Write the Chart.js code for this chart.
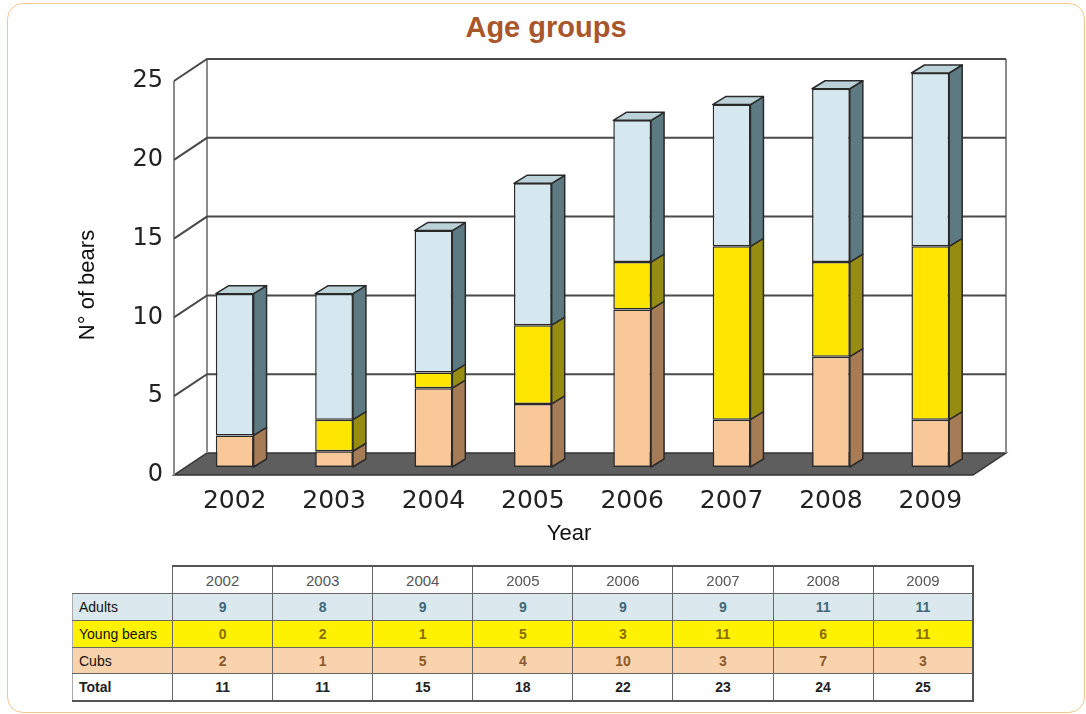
<!DOCTYPE html>
<html>
<head>
<meta charset="utf-8">
<title>Age groups</title>
<script src="https://cdn.jsdelivr.net/npm/chart.js@4"></script>
<style>
    body { margin: 0; background: #fff; width: 1086px; height: 714px; overflow: hidden; position: relative; font-family: "Liberation Sans", Arial, sans-serif; }
    #card { position: absolute; left: 7px; top: 3px; width: 1078px; height: 710px; box-sizing: border-box; border: 1.5px solid #f2c88c; border-radius: 16px; }
    #title { position: absolute; left: 0; width: 1092px; top: 11px; text-align: center; font-weight: bold; font-size: 29px; color: #a9562c; }
    #chart { position: absolute; left: 0; top: 0; }
    .axis-title { position: absolute; font-size: 22px; color: #111; white-space: nowrap; }
    #x-title { left: 469px; width: 200px; top: 520px; text-align: center; }
    #y-title { left: -13px; width: 200px; top: 272px; text-align: center; transform: rotate(-90deg); }
    #data-table { position: absolute; left: 72px; top: 565px; border-collapse: collapse; table-layout: fixed; }
    #data-table td { padding: 0; text-align: center; font-size: 14px; border: 1px solid #666; white-space: nowrap; overflow: hidden; }
    #data-table td.lbl { text-align: left; padding-left: 6px; color: #111; border-left: 1px solid #aaa; }
    #data-table tr.head td { font-family: "Liberation Sans Narrow", "Arial Narrow", sans-serif; color: #555; font-size: 15px; height: 26px; border-top: 2px solid #555; }
    #data-table tr.head td.blank { border: none; border-bottom: 1px solid #666; background: #fff; }
    #data-table td.last { border-right: 2px solid #555; }
    #data-table tr.total td { border-bottom: 2px solid #555; font-weight: bold; color: #222; height: 26px; }
    .num { font-family: "Liberation Sans Narrow", "Arial Narrow", sans-serif; font-weight: bold; }
</style>
</head>
<body>
<div id="card"></div>
<div id="title">Age groups</div>
<canvas id="chart" width="1086" height="560"></canvas>
<div id="x-title" class="axis-title">Year</div>
<div id="y-title" class="axis-title">N° of bears</div>
<table id="data-table"></table>

<script>
        // Data
        const years = ['2002', '2003', '2004', '2005', '2006', '2007', '2008', '2009'];
        const adults = [9, 8, 9, 9, 9, 9, 11, 11];
        const youngBears = [0, 2, 1, 5, 3, 11, 6, 11];
        const cubs = [2, 1, 5, 4, 10, 3, 7, 3];
        const totals = [11, 11, 15, 18, 22, 23, 24, 25];
        const yTicks = [0, 5, 10, 15, 20, 25];

        // Colours: front face, side face, top face
        const colors = {
            adults: { front: '#d5e8ef', side: '#5d7a83', top: '#bcd2d9', text: '#3f6878', row: '#dbe9ee' },
            young: { front: '#ffe600', side: '#968c12', top: '#e9d600', text: '#8a6d00', row: '#fff200' },
            cubs: { front: '#f9c899', side: '#a67c57', top: '#efb98a', text: '#8b5a2b', row: '#f9d2ae' }
        };

        // 3D box look (walls, floor, bar sides)
        const depth3d = {
            id: 'depth3d',
            beforeDatasetsDraw(chart) {
                const { ctx, chartArea: a, scales: { y } } = chart;
                const fL = a.left - 11, fR = a.right - 7, fOff = 8;
                const bL = a.left + 22, bR = a.right + 26, bOff = -14;
                const y0 = y.getPixelForValue(0);
                const yMax = y.getPixelForValue(yTicks[yTicks.length - 1]);

                ctx.save();
                // floor
                ctx.beginPath();
                ctx.moveTo(fL, y0 + fOff);
                ctx.lineTo(fR, y0 + fOff);
                ctx.lineTo(bR, y0 + bOff);
                ctx.lineTo(bL, y0 + bOff);
                ctx.closePath();
                ctx.fillStyle = '#5e5e5e';
                ctx.fill();
                ctx.strokeStyle = '#333';
                ctx.lineWidth = 1.5;
                ctx.stroke();

                // wall edges
                ctx.strokeStyle = '#8c8c8c';
                ctx.lineWidth = 2;
                ctx.beginPath();
                ctx.moveTo(fL, y0 + fOff); ctx.lineTo(fL, yMax + fOff);
                ctx.moveTo(bL, y0 + bOff); ctx.lineTo(bL, yMax + bOff);
                ctx.moveTo(bR, y0 + bOff); ctx.lineTo(bR, yMax + bOff);
                ctx.stroke();

                // grid lines on left and back walls
                ctx.strokeStyle = '#4a4a4a';
                ctx.lineWidth = 2;
                yTicks.forEach(v => {
                    if (v === 0) return;
                    const p = y.getPixelForValue(v);
                    ctx.beginPath();
                    ctx.moveTo(fL, p + fOff);
                    ctx.lineTo(bL, p + bOff);
                    ctx.lineTo(bR, p + bOff);
                    ctx.stroke();
                });
                ctx.restore();
            },
            afterDatasetsDraw(chart) {
                const { ctx } = chart;
                const dx = 13, dy = 8;
                const faces = [colors.cubs, colors.young, colors.adults];
                const n = chart.data.labels.length;

                ctx.save();
                ctx.strokeStyle = '#2a2a2a';
                ctx.lineWidth = 1.5;
                ctx.lineJoin = 'round';
                for (let i = 0; i < n; i++) {
                    let topIdx = -1;
                    chart.data.datasets.forEach((ds, di) => {
                        if (ds.data[i] > 0) topIdx = di;
                    });
                    chart.data.datasets.forEach((ds, di) => {
                        const bar = chart.getDatasetMeta(di).data[i];
                        const { x, y, base, width } = bar.getProps(['x', 'y', 'base', 'width'], true);
                        if (Math.abs(base - y) < 0.5) return;
                        const l = x - width / 2, r = x + width / 2;

                        // side face
                        ctx.beginPath();
                        ctx.moveTo(r, y);
                        ctx.lineTo(r + dx, y - dy);
                        ctx.lineTo(r + dx, base - dy);
                        ctx.lineTo(r, base);
                        ctx.closePath();
                        ctx.fillStyle = faces[di].side;
                        ctx.fill();
                        ctx.stroke();

                        // top face
                        if (di === topIdx) {
                            ctx.beginPath();
                            ctx.moveTo(l, y);
                            ctx.lineTo(l + dx, y - dy);
                            ctx.lineTo(r + dx, y - dy);
                            ctx.lineTo(r, y);
                            ctx.closePath();
                            ctx.fillStyle = faces[di].top;
                            ctx.fill();
                            ctx.stroke();
                        }
                    });
                }
                ctx.restore();
            }
        };

        const ctx = document.getElementById('chart').getContext('2d');
        new Chart(ctx, {
            type: 'bar',
            data: {
                labels: years,
                datasets: [
                    { label: 'Cubs', data: cubs, backgroundColor: colors.cubs.front },
                    { label: 'Young bears', data: youngBears, backgroundColor: colors.young.front },
                    { label: 'Adults', data: adults, backgroundColor: colors.adults.front }
                ]
            },
            options: {
                responsive: false,
                animation: false,
                layout: { padding: { left: 0, right: 106, top: 73, bottom: 33 } },
                datasets: {
                    bar: {
                        borderColor: '#2a2a2a',
                        borderWidth: 1.5,
                        borderSkipped: false,
                        categoryPercentage: 1,
                        barPercentage: 0.38
                    }
                },
                plugins: {
                    legend: { display: false },
                    tooltip: { enabled: false }
                },
                scales: {
                    x: {
                        stacked: true,
                        grid: { display: false, drawTicks: false },
                        border: { display: false },
                        ticks: {
                            padding: 19,
                            color: '#222',
                            font: { family: 'DejaVu Sans', size: 25 }
                        },
                        afterFit: s => { s.height = 60; }
                    },
                    y: {
                        stacked: true,
                        min: 0,
                        max: 25,
                        grid: { display: false, drawTicks: false },
                        border: { display: false },
                        afterBuildTicks: s => { s.ticks = yTicks.map(v => ({ value: v })); },
                        ticks: {
                            padding: 22,
                            labelOffset: 8,
                            color: '#222',
                            font: { family: 'DejaVu Sans', size: 24 }
                        },
                        afterFit: s => { s.width = 185; }
                    }
                }
            },
            plugins: [depth3d]
        });

        // Data table under the chart
        function buildTable() {
            const table = document.getElementById('data-table');
            const colW = [100].concat(years.map(() => 100.1));
            const colgroup = document.createElement('colgroup');
            colW.forEach(w => {
                const c = document.createElement('col');
                c.style.width = w + 'px';
                colgroup.appendChild(c);
            });
            table.appendChild(colgroup);

            const head = document.createElement('tr');
            head.className = 'head';
            head.innerHTML = '<td class="blank"></td>' +
                years.map((yr, i) => `<td class="${i === years.length - 1 ? 'last' : ''}">${yr}</td>`).join('');
            table.appendChild(head);

            const rows = [
                { name: 'Adults', values: adults, c: colors.adults, h: 26 },
                { name: 'Young bears', values: youngBears, c: colors.young, h: 26 },
                { name: 'Cubs', values: cubs, c: colors.cubs, h: 25 }
            ];
            rows.forEach(r => {
                const tr = document.createElement('tr');
                tr.style.background = r.c.row;
                tr.innerHTML = `<td class="lbl" style="height:${r.h}px">${r.name}</td>` +
                    r.values.map((v, i) => `<td class="num ${i === years.length - 1 ? 'last' : ''}" style="color:${r.c.text}">${v}</td>`).join('');
                table.appendChild(tr);
            });

            const tot = document.createElement('tr');
            tot.className = 'total';
            tot.innerHTML = '<td class="lbl">Total</td>' +
                totals.map((v, i) => `<td class="num ${i === years.length - 1 ? 'last' : ''}">${v}</td>`).join('');
            table.appendChild(tot);
        }

        buildTable();
</script>
</body>
</html>
